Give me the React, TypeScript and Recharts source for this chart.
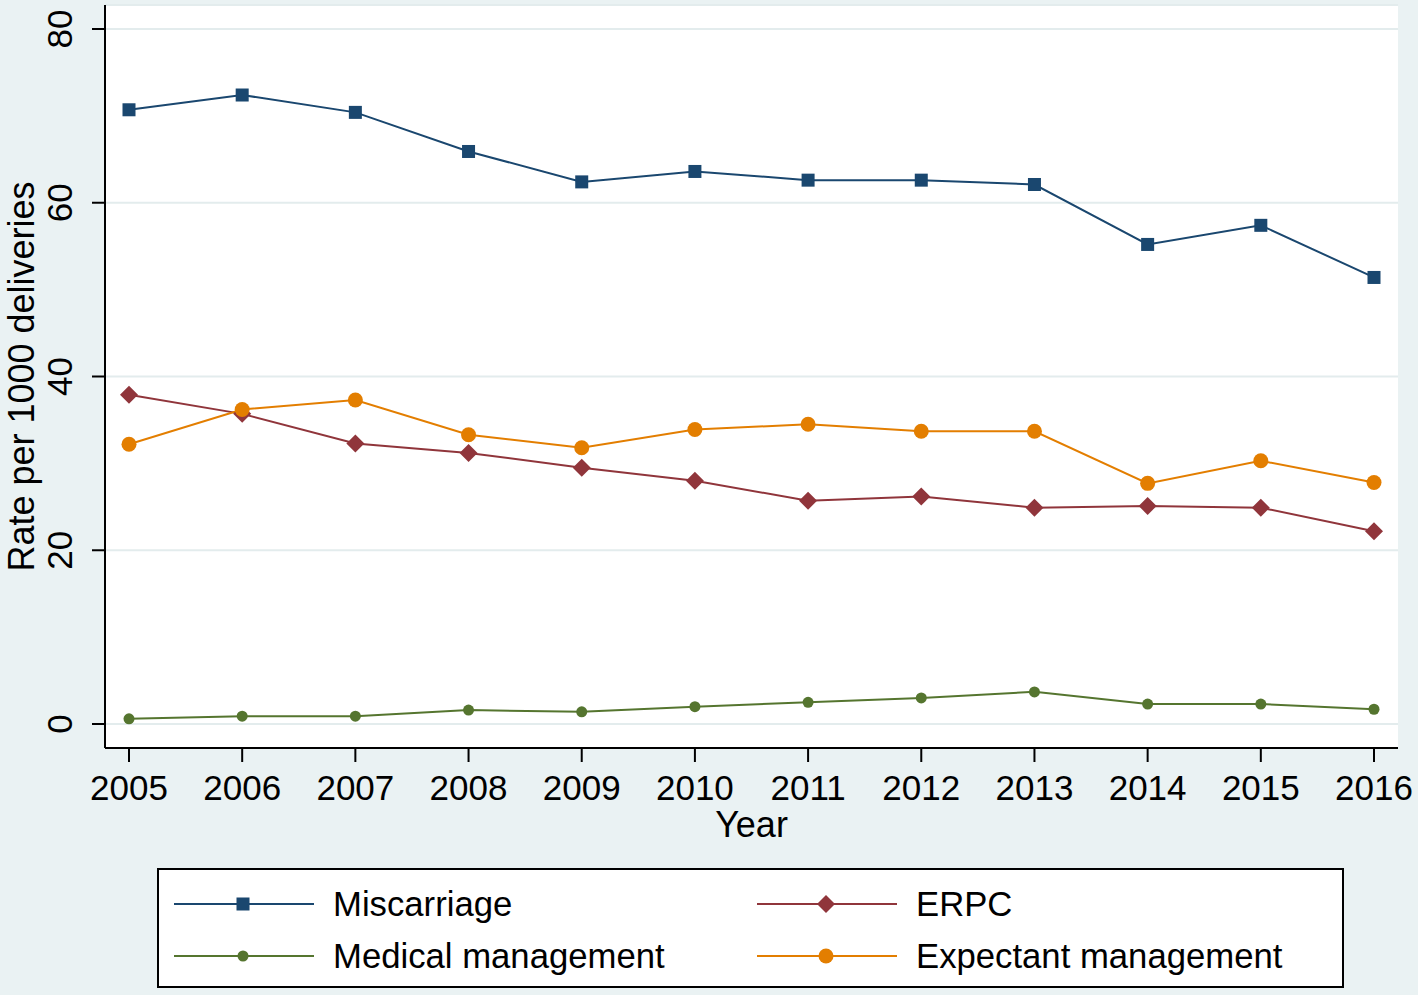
import { LineChart, Line, XAxis, YAxis, CartesianGrid, Label } from 'recharts';

// Rates per 1000 deliveries
const YEARS = ['2005', '2006', '2007', '2008', '2009', '2010', '2011', '2012', '2013', '2014', '2015', '2016'];
const MISCARRIAGE = [70.7, 72.4, 70.4, 65.9, 62.4, 63.6, 62.6, 62.6, 62.1, 55.2, 57.4, 51.4];
const ERPC = [37.9, 35.7, 32.3, 31.2, 29.5, 28.0, 25.7, 26.2, 24.9, 25.1, 24.9, 22.2];
const MEDICAL = [0.6, 0.9, 0.9, 1.6, 1.4, 2.0, 2.5, 3.0, 3.7, 2.3, 2.3, 1.7];
const EXPECTANT = [32.2, 36.2, 37.3, 33.3, 31.8, 33.9, 34.5, 33.7, 33.7, 27.7, 30.3, 27.8];
const Y_TICKS = [0, 20, 40, 60, 80];

type Shape = 'square' | 'diamond' | 'smallCircle' | 'circle';

const SERIES: { key: string; name: string; color: string; shape: Shape; values: number[] }[] = [
  { key: 'miscarriage', name: 'Miscarriage', color: '#1a476f', shape: 'square', values: MISCARRIAGE },
  { key: 'erpc', name: 'ERPC', color: '#90353b', shape: 'diamond', values: ERPC },
  { key: 'medical', name: 'Medical management', color: '#55752f', shape: 'smallCircle', values: MEDICAL },
  { key: 'expectant', name: 'Expectant management', color: '#e37e00', shape: 'circle', values: EXPECTANT },
];

const data = YEARS.map((year, i) => {
  const row: Record<string, string | number> = { year };
  for (const s of SERIES) row[s.key] = s.values[i];
  return row;
});

const FONT = '"Liberation Sans", Arial, sans-serif';
const BG = '#eaf2f3';

function Marker({ shape, cx, cy, color }: { shape: Shape; cx: number; cy: number; color: string }) {
  if (shape === 'square') return <rect x={cx - 6.5} y={cy - 6.5} width={13} height={13} fill={color} />;
  if (shape === 'diamond')
    return <polygon points={`${cx},${cy - 9} ${cx + 9},${cy} ${cx},${cy + 9} ${cx - 9},${cy}`} fill={color} />;
  if (shape === 'smallCircle') return <circle cx={cx} cy={cy} r={5.5} fill={color} />;
  return <circle cx={cx} cy={cy} r={7.5} fill={color} />;
}

const YTick = (props: any) => {
  const { x, y, payload } = props;
  return (
    <text
      x={x}
      y={y}
      transform={`rotate(-90, ${x}, ${y})`}
      textAnchor="middle"
      fontSize={35}
      fontFamily={FONT}
      fill="#000"
    >
      {payload.value}
    </text>
  );
};

const YTitle = (props: any) => {
  const { viewBox } = props;
  const cx = 34;
  const cy = viewBox.y + viewBox.height / 2;
  return (
    <text x={cx} y={cy} transform={`rotate(-90, ${cx}, ${cy})`} textAnchor="middle" fontSize={36} fontFamily={FONT} fill="#000">
      Rate per 1000 deliveries
    </text>
  );
};

function LegendBox() {
  const rows = [
    [SERIES[0], SERIES[1]],
    [SERIES[2], SERIES[3]],
  ];
  return (
    <div
      style={{
        position: 'absolute',
        left: 157,
        top: 868,
        width: 1183,
        height: 116,
        border: '2px solid #000',
        background: '#fff',
        fontFamily: FONT,
        fontSize: 34.7,
      }}
    >
      {rows.map((row, r) =>
        row.map((s, c) => (
          <div
            key={s.key}
            style={{
              position: 'absolute',
              left: c === 0 ? 15 : 598,
              top: 8 + r * 52,
              height: 52,
              display: 'flex',
              alignItems: 'center',
              whiteSpace: 'nowrap',
            }}
          >
            <svg width={140} height={30} style={{ marginRight: 19 }}>
              <line x1={0} x2={140} y1={15} y2={15} stroke={s.color} strokeWidth={2} />
              <Marker shape={s.shape} cx={69} cy={15} color={s.color} />
            </svg>
            <span>{s.name}</span>
          </div>
        ))
      )}
    </div>
  );
}

export default function App() {
  return (
    <div style={{ position: 'absolute', left: 0, top: 0, width: 1418, height: 995, background: BG, fontFamily: FONT }}>
      <LineChart width={1418} height={995} data={data} margin={{ top: 5, right: 20, bottom: 187, left: 0 }}>
        <CartesianGrid horizontal vertical={false} fill="#fff" stroke="#e3eced" strokeWidth={2} />
        <XAxis
          dataKey="year"
          padding={{ left: 24, right: 24 }}
          height={60}
          tickSize={14}
          tickMargin={13}
          axisLine={{ stroke: '#000', strokeWidth: 2 }}
          tickLine={{ stroke: '#000', strokeWidth: 2 }}
          tick={{ fontSize: 35, fill: '#000', fontFamily: FONT }}
          interval={0}
        >
          <Label value="Year" position="bottom" offset={3} fontSize={36} fill="#000" fontFamily={FONT} />
        </XAxis>
        <YAxis
          width={105}
          domain={[-2.76, 82.76]}
          ticks={Y_TICKS}
          allowDataOverflow
          tickSize={13}
          tickMargin={20}
          axisLine={{ stroke: '#000', strokeWidth: 2 }}
          tickLine={{ stroke: '#000', strokeWidth: 2 }}
          tick={<YTick />}
        >
          <Label content={<YTitle />} />
        </YAxis>
        {SERIES.map((s) => (
          <Line
            key={s.key}
            type="linear"
            dataKey={s.key}
            name={s.name}
            stroke={s.color}
            strokeWidth={2}
            isAnimationActive={false}
            dot={(p: any) => <Marker key={`${s.key}-${p.index}`} shape={s.shape} cx={p.cx} cy={p.cy} color={s.color} />}
            activeDot={false}
          />
        ))}
      </LineChart>
      <LegendBox />
    </div>
  );
}
